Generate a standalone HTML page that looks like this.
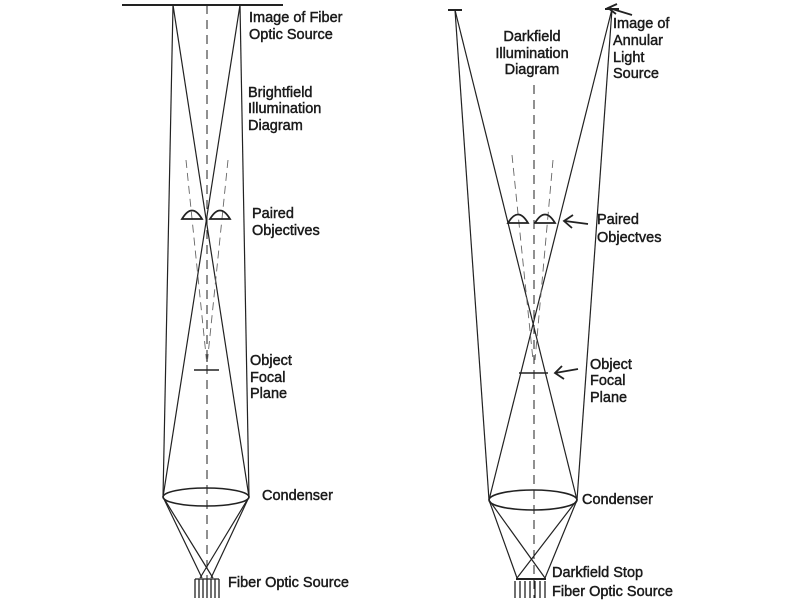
<!DOCTYPE html>
<html><head><meta charset="utf-8"><style>
html,body{margin:0;padding:0;background:#fff}
svg{display:block}
text{font-family:"Liberation Sans",sans-serif;font-size:14.5px;fill:#1a1a1a;stroke:#1a1a1a;stroke-width:0.45}
</style></head><body>
<svg width="800" height="600" viewBox="0 0 800 600" xmlns="http://www.w3.org/2000/svg">
<g stroke="#222" stroke-width="1.2" fill="none">
<!-- LEFT -->
<line x1="122" y1="5" x2="283" y2="5" stroke-width="2"/>
<line x1="207" y1="5" x2="207" y2="598" stroke-dasharray="9,6" stroke-width="1"/>
<line x1="173" y1="5" x2="163" y2="497"/>
<line x1="240" y1="5" x2="249" y2="497"/>
<line x1="173" y1="5" x2="249" y2="497"/>
<line x1="240" y1="5" x2="163" y2="497"/>
<line x1="186" y1="160" x2="207" y2="365" stroke-dasharray="8,5" stroke-width="0.9" stroke="#666"/>
<line x1="228" y1="160" x2="207" y2="365" stroke-dasharray="8,5" stroke-width="0.9" stroke="#666"/>
<line x1="194" y1="370" x2="219" y2="370" stroke-width="1.5"/>
<path d="M182 219 Q192 202 202 219 Z" stroke-width="1.8"/>
<path d="M210 219 Q220 202 230 219 Z" stroke-width="1.8"/>
<ellipse cx="206" cy="497" rx="43" ry="9" stroke-width="1.6"/>
<line x1="163" y1="497" x2="213" y2="578"/>
<line x1="163" y1="497" x2="202" y2="578"/>
<line x1="249" y1="497" x2="200" y2="578"/>
<line x1="249" y1="497" x2="211" y2="578"/>
<line x1="195" y1="579" x2="219" y2="579"/>
<g stroke-width="1.3"><line x1="195" y1="579" x2="195" y2="598"/><line x1="199" y1="579" x2="199" y2="598"/><line x1="203" y1="579" x2="203" y2="598"/><line x1="207" y1="579" x2="207" y2="598"/><line x1="211" y1="579" x2="211" y2="598"/><line x1="215" y1="579" x2="215" y2="598"/><line x1="219" y1="579" x2="219" y2="598"/></g>
<!-- RIGHT -->
<line x1="448" y1="10" x2="462" y2="10" stroke-width="2"/>
<line x1="605" y1="9" x2="619" y2="9" stroke-width="2"/>
<line x1="534" y1="85" x2="534" y2="598" stroke-dasharray="9,6" stroke-width="1"/>
<line x1="455" y1="10" x2="489" y2="500"/>
<line x1="612" y1="9" x2="577" y2="500"/>
<line x1="455" y1="10" x2="577" y2="500"/>
<line x1="612" y1="9" x2="489" y2="500"/>
<line x1="512" y1="155" x2="533" y2="360" stroke-dasharray="8,5" stroke-width="0.9" stroke="#666"/>
<line x1="553" y1="160" x2="535" y2="360" stroke-dasharray="8,5" stroke-width="0.9" stroke="#666"/>
<line x1="519" y1="373" x2="548" y2="373" stroke-width="1.6"/>
<path d="M508 223 Q518 206 528 223 Z" stroke-width="1.8"/>
<path d="M535 223 Q545 206 555 223 Z" stroke-width="1.8"/>
<ellipse cx="533" cy="500" rx="44" ry="10" stroke-width="1.6"/>
<line x1="489" y1="500" x2="545" y2="578"/>
<line x1="489" y1="500" x2="517" y2="578"/>
<line x1="577" y1="500" x2="517" y2="578"/>
<line x1="577" y1="500" x2="545" y2="578"/>
<line x1="516" y1="579" x2="546" y2="579" stroke-width="2"/>
<g stroke-width="1.3"><line x1="515" y1="581" x2="515" y2="598"/><line x1="520" y1="581" x2="520" y2="598"/><line x1="525" y1="581" x2="525" y2="598"/><line x1="530" y1="581" x2="530" y2="598"/><line x1="535" y1="581" x2="535" y2="598"/><line x1="540" y1="581" x2="540" y2="598"/><line x1="545" y1="581" x2="545" y2="598"/></g>
<!-- arrows -->
<g stroke-width="1.8">
<line x1="632" y1="15" x2="609" y2="8"/><path d="M617 4 L608 8 L616 14"/>
<line x1="588" y1="224" x2="565" y2="221"/><path d="M573 215 L564 221 L572 228"/>
<line x1="578" y1="369" x2="555" y2="373"/><path d="M562 366 L555 373 L564 379"/>
</g>
</g>
<text x="249" y="22">Image of Fiber</text>
<text x="249" y="39">Optic Source</text>
<text x="248" y="97">Brightfield</text>
<text x="248" y="113">Illumination</text>
<text x="248" y="130">Diagram</text>
<text x="252" y="218">Paired</text>
<text x="252" y="235">Objectives</text>
<text x="250" y="365">Object</text>
<text x="250" y="382">Focal</text>
<text x="250" y="398">Plane</text>
<text x="262" y="500">Condenser</text>
<text x="228" y="587">Fiber Optic Source</text>
<text x="532" y="41" text-anchor="middle">Darkfield</text>
<text x="532" y="58" text-anchor="middle">Illumination</text>
<text x="532" y="74" text-anchor="middle">Diagram</text>
<text x="613" y="28">Image of</text>
<text x="613" y="45">Annular</text>
<text x="613" y="62">Light</text>
<text x="613" y="78">Source</text>
<text x="597" y="224">Paired</text>
<text x="597" y="242">Objectves</text>
<text x="590" y="369">Object</text>
<text x="590" y="385">Focal</text>
<text x="590" y="402">Plane</text>
<text x="582" y="504">Condenser</text>
<text x="552" y="577">Darkfield Stop</text>
<text x="552" y="596">Fiber Optic Source</text>
</svg>
</body></html>
